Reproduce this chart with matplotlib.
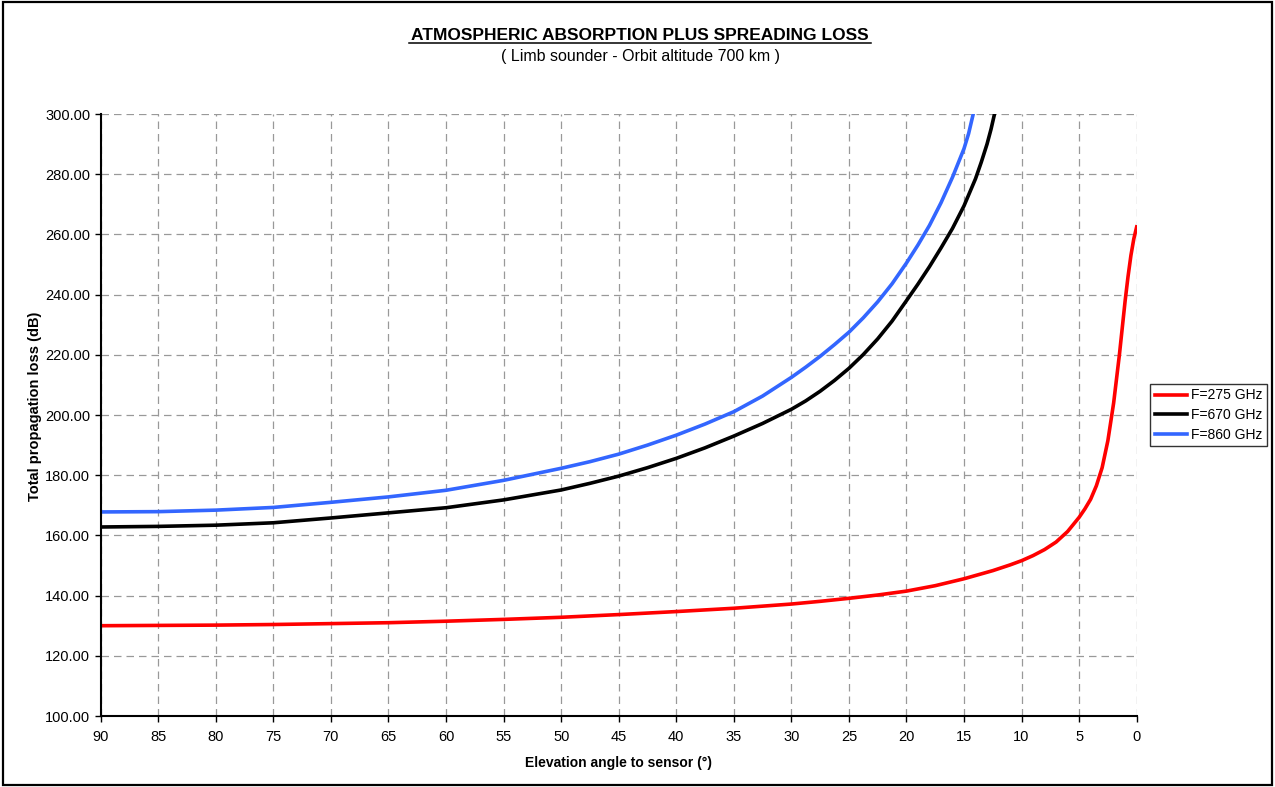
import matplotlib
matplotlib.use("Agg")
import matplotlib.pyplot as plt
from matplotlib.patches import Rectangle
from matplotlib.ticker import FormatStrFormatter

plt.rcParams['font.family'] = ['Liberation Sans', 'DejaVu Sans']

# Elevation angle (deg) and total propagation loss (dB) per frequency
angle_275 = [90, 85, 80, 75, 70, 65, 60, 55, 50, 45, 40, 35, 30, 27.5, 25, 22.5, 20,
             17.5, 15, 12.5, 11, 10, 9, 8, 7, 6, 5, 4.5, 4, 3.5, 3, 2.5, 2, 1.5, 1,
             0.75, 0.5, 0.25, 0]
loss_275 = [130.0, 130.1, 130.2, 130.4, 130.7, 131.0, 131.5, 132.1, 132.8, 133.7,
            134.7, 135.8, 137.2, 138.1, 139.1, 140.2, 141.5, 143.3, 145.6, 148.3,
            150.2, 151.6, 153.3, 155.3, 157.8, 161.3, 166.0, 168.8, 172.0, 176.5,
            182.5, 191.5, 204.0, 220.0, 238.0, 246.0, 253.0, 258.5, 262.5]

angle_670 = [90, 85, 80, 75, 70, 65, 60, 55, 50, 47.5, 45, 42.5, 40, 37.5, 35, 32.5,
             30, 28.75, 27.5, 26.25, 25, 23.75, 22.5, 21.25, 20, 19, 18, 17, 16, 15,
             14, 13.5, 13, 12.65, 12.35]
loss_670 = [162.8, 163.0, 163.4, 164.2, 165.8, 167.5, 169.2, 171.8, 175.1, 177.3,
            179.7, 182.5, 185.6, 189.1, 193.0, 197.2, 201.9, 204.7, 207.9, 211.5,
            215.5, 220.1, 225.3, 231.2, 238.0, 243.5, 249.3, 255.5, 262.0, 269.5,
            278.5, 284.0, 290.0, 295.0, 300.0]

angle_860 = [90, 85, 80, 75, 70, 65, 60, 55, 50, 47.5, 45, 42.5, 40, 37.5, 35, 32.5,
             30, 28.75, 27.5, 26.25, 25, 23.75, 22.5, 21.25, 20, 19, 18, 17, 16, 15,
             14.6, 14.2]
loss_860 = [167.8, 167.9, 168.4, 169.3, 171.0, 172.8, 175.0, 178.3, 182.3, 184.5,
            187.0, 190.0, 193.3, 197.0, 201.1, 206.3, 212.5, 215.9, 219.5, 223.4,
            227.5, 232.3, 237.6, 243.6, 250.5, 256.5, 263.0, 270.5, 279.0, 288.5,
            293.5, 300.0]

series_labels = ["F=275 GHz", "F=670 GHz", "F=860 GHz"]
series_colors = ["#FF0000", "#000000", "#3366FF"]

x_ticks = list(range(90, -1, -5))
y_ticks = list(range(100, 301, 20))

fig = plt.figure(figsize=(12.75, 7.87), dpi=100)
ax = fig.add_axes([0.079, 0.0902, 0.8125, 0.7649])

for xs, ys, lab, col in zip([angle_275, angle_670, angle_860],
                            [loss_275, loss_670, loss_860],
                            series_labels, series_colors):
    ax.plot(xs, ys, color=col, lw=2.6, label=lab, solid_joinstyle='round')

ax.set_xlim(90, 0)
ax.set_ylim(100, 300)
ax.set_xticks(x_ticks)
ax.set_yticks(y_ticks)
ax.yaxis.set_major_formatter(FormatStrFormatter('%.2f'))
ax.grid(True, color='#999999', linestyle=(0, (6, 4)), linewidth=0.9)
ax.set_axisbelow(True)

for side in ('top', 'right'):
    ax.spines[side].set_visible(False)
for side in ('left', 'bottom'):
    ax.spines[side].set_linewidth(1.5)
    ax.spines[side].set_color('black')

ax.tick_params(axis='both', direction='out', length=4, width=1, labelsize=10.5,
               colors='black')
ax.tick_params(axis='x', pad=6)

ax.set_xlabel('Elevation angle to sensor (°)', fontsize=10, fontweight='bold', labelpad=9)
ax.set_ylabel('Total propagation loss (dB)', fontsize=10.5, fontweight='bold', labelpad=4)
ax.yaxis.set_label_coords(-0.057, 0.515)

fig.text(0.502, 0.955, 'ATMOSPHERIC ABSORPTION PLUS SPREADING LOSS',
         ha='center', va='center', fontsize=12.5, fontweight='bold')
# underline under the title
title_line_y = 0.945
fig.add_artist(plt.Line2D([0.321, 0.683], [title_line_y, title_line_y],
                          color='black', lw=1.1, transform=fig.transFigure))
fig.text(0.502, 0.928, '( Limb sounder - Orbit altitude 700 km )',
         ha='center', va='center', fontsize=11.5)

leg = fig.legend(loc='center left', bbox_to_anchor=(0.902, 0.4727), fontsize=10,
                 frameon=True, fancybox=False, handlelength=2.3, handletextpad=0.3,
                 borderpad=0.35, labelspacing=0.4, borderaxespad=0)
leg.get_frame().set_edgecolor('black')
leg.get_frame().set_linewidth(1.0)

# outer chart border
fig.add_artist(Rectangle((0.002, 0.003), 0.996, 0.994, transform=fig.transFigure,
                         fill=False, edgecolor='black', linewidth=1.6))

fig.savefig('out.png', dpi=100)
